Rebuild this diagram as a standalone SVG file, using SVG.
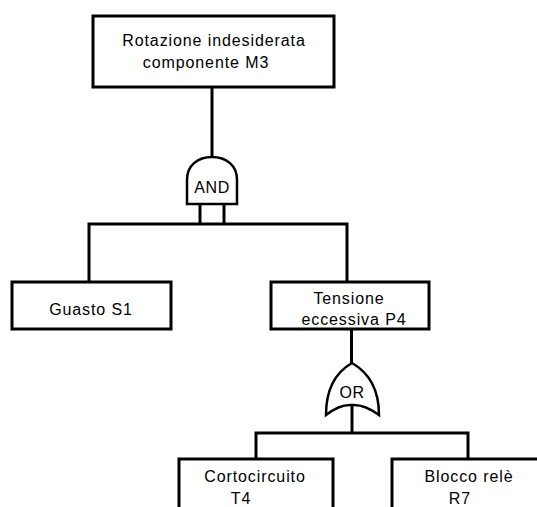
<svg xmlns="http://www.w3.org/2000/svg" width="537" height="507" viewBox="0 0 537 507">
<style>
.box{fill:#fff;stroke:#000;stroke-width:3}
.ln{fill:none;stroke:#000;stroke-width:3}
.gate{fill:#fff;stroke:#000;stroke-width:2.5}
text{font-family:"Liberation Sans",Arial,sans-serif;font-size:16px;letter-spacing:0.9px;fill:#000;text-anchor:middle}
.g{font-size:16px;letter-spacing:0.6px}
</style>
<rect width="537" height="507" fill="#fff"/>
<g id="connectors">
<path class="ln" d="M212 87V157"/>
<path class="ln" d="M200 204V224M224 204V224"/>
<path class="ln" d="M89 282V224H347V282"/>
<path class="ln" d="M351.5 330V363"/>
<path class="ln" d="M352 406V433"/>
<path class="ln" d="M256 459V433H468V459"/>
</g>
<g id="top">
<rect class="box" x="93" y="16" width="241" height="71"/>
<text x="214" y="46">Rotazione indesiderata</text>
<text x="206" y="68">componente M3</text>
</g>
<g id="and-gate">
<path class="gate" d="M187 204V180C187 165 198 157 212 157C226 157 237 165 237 180V204Z"/>
<text class="g" x="212" y="193">AND</text>
</g>
<g id="guasto">
<rect class="box" x="12" y="282" width="159" height="47"/>
<text x="91" y="315">Guasto S1</text>
</g>
<g id="tensione">
<rect class="box" x="271" y="282" width="158" height="47"/>
<text x="349" y="304">Tensione</text>
<text x="354" y="325">eccessiva P4</text>
</g>
<g id="or-gate">
<path class="gate" d="M352 363C338 371 326 386 326 415Q340 404 352 405Q364 404 379 415C379 386 366 371 352 363Z"/>
<text class="g" x="352" y="398">OR</text>
</g>
<g id="cortocircuito">
<rect class="box" x="179" y="459" width="154" height="60"/>
<text x="255" y="482">Cortocircuito</text>
<text x="241" y="504">T4</text>
</g>
<g id="blocco">
<rect class="box" x="392" y="459" width="154" height="60"/>
<text x="469" y="482">Blocco relè</text>
<text x="460" y="504">R7</text>
</g>
</svg>
